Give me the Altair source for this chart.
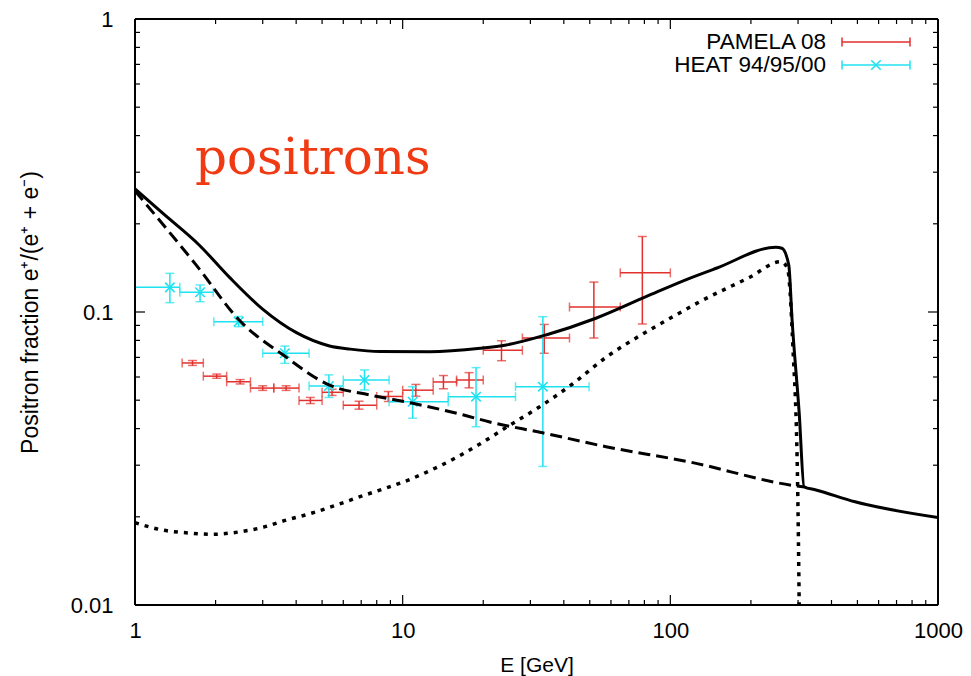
import altair as alt
import pandas as pd

# ---------------- data ----------------
# PAMELA 08 positron fraction
pam_E   = [1.64, 2.02, 2.47, 3.00, 3.67, 4.52, 5.45, 6.87, 8.84, 11.2, 14.2, 17.7, 23.4, 33.8, 51.8, 78.6]
pam_Elo = [1.5, 1.8, 2.2, 2.7, 3.3, 4.1, 5.0, 6.0, 8.0, 10.0, 13.0, 15.9, 20.0, 28.0, 42.0, 65.0]
pam_Ehi = [1.8, 2.2, 2.7, 3.3, 4.1, 5.0, 6.0, 8.0, 10.0, 13.0, 15.9, 20.0, 28.0, 42.0, 65.0, 100.0]
pam_f   = [0.0670, 0.0604, 0.0578, 0.0550, 0.0550, 0.0499, 0.0532, 0.0481, 0.0515, 0.0541, 0.0577, 0.0586, 0.0740, 0.0815, 0.1040, 0.1360]
pam_err = [0.0013, 0.0010, 0.0010, 0.0010, 0.0010, 0.0012, 0.0013, 0.0015, 0.0020, 0.0025, 0.0030, 0.0035, 0.0058, 0.0092, 0.0225, 0.0450]

# HEAT 94/95/00
heat_E   = [1.35, 1.75, 2.44, 3.63, 5.3, 7.2, 10.9, 18.8, 33.4]
heat_Elo = [1.0, 1.47, 1.97, 3.0, 4.47, 6.0, 8.9, 14.8, 26.4]
heat_Ehi = [1.47, 1.96, 3.0, 4.47, 6.0, 8.9, 14.8, 26.4, 49.7]
heat_f   = [0.1214, 0.1168, 0.0927, 0.0723, 0.0559, 0.0586, 0.0494, 0.0514, 0.0556]
heat_flo = [0.1076, 0.1084, 0.0891, 0.0668, 0.0511, 0.0542, 0.0434, 0.0406, 0.0297]
heat_fhi = [0.1355, 0.1237, 0.0965, 0.0765, 0.0610, 0.0634, 0.0556, 0.0646, 0.0964]

# model curves
total_E = [1.0, 1.275, 1.74, 2.26, 2.99, 4.01, 5.33, 6.37, 8.22, 12.6, 19.5, 24.4, 34.3, 52.7, 81.1,
           117.9, 148.5, 248.0, 261.0, 277.0, 285.0, 303.0, 316.0, 350.0, 490.0, 1000.0]
total_f = [0.263, 0.2165, 0.1690, 0.1310, 0.1025, 0.0850, 0.0766, 0.0747, 0.0733, 0.0732, 0.0752, 0.0772,
           0.0835, 0.0952, 0.1128, 0.1303, 0.1410, 0.1663, 0.1650, 0.1447, 0.0939, 0.0452, 0.0253,
           0.0247, 0.0225, 0.0199]

secondary_E = [1.0, 1.275, 1.70, 2.46, 3.58, 5.33, 7.53, 10.9, 16.9, 21.0, 33.3, 57.5, 117.5, 295.0, 316.0]
secondary_f = [0.2590, 0.1985, 0.1440, 0.0935, 0.0713, 0.0563, 0.0521, 0.0488, 0.0445, 0.0422, 0.0387,
               0.0347, 0.0308, 0.0255, 0.0253]

primary_E = [1.0, 1.275, 1.604, 1.93, 2.43, 3.01, 3.68, 4.56, 5.65, 6.93, 8.6, 10.5, 12.8, 15.7, 19.2,
             24.5, 32.4, 43.1, 57.7, 76.6, 101.7, 128.3, 197.1, 259.0, 274.0, 287.0, 299.0, 303.0]
primary_f = [0.0191, 0.0180, 0.0176, 0.01743, 0.01774, 0.01842, 0.0195, 0.02056, 0.02194, 0.02342,
             0.02502, 0.0267, 0.0289, 0.0317, 0.0352, 0.0405, 0.0474, 0.0568, 0.0702, 0.0828, 0.0961,
             0.1082, 0.1311, 0.1485, 0.1410, 0.0761, 0.0253, 0.0100]

x_major = [1, 10, 100, 1000]
x_minor = [2, 3, 4, 5, 6, 7, 8, 9, 20, 30, 40, 50, 60, 70, 80, 90, 200, 300, 400, 500, 600, 700, 800, 900]
y_major = [0.01, 0.1, 1]
y_minor = [0.02, 0.03, 0.04, 0.05, 0.06, 0.07, 0.08, 0.09, 0.2, 0.3, 0.4, 0.5, 0.6, 0.7, 0.8, 0.9]

legend_labels = ["PAMELA 08", "HEAT 94/95/00"]
annotation = "positrons"

# ---------------- styling ----------------
W, H = 803, 586
RED = "#e2302c"
CYAN = "#1fe2f0"
FONT = "Liberation Sans"

xs = alt.Scale(type="log", domain=[1, 1000], nice=False)
ys = alt.Scale(type="log", domain=[0.01, 1], nice=False)

x_axis = alt.Axis(values=x_major, format="d", ticks=False, domain=False, grid=False, labelFlush=False,
                  labelPadding=15, labelFontSize=22, labelFont=FONT, labelColor="black",
                  title="E [GeV]", titleFontSize=21, titleFont=FONT, titleFontWeight="normal",
                  titleColor="black", titleX=W / 2, titleY=60, titleBaseline="middle")
y_axis = alt.Axis(values=y_major, format="~g", ticks=False, domain=False, grid=False, labelFlush=False,
                  labelPadding=22, labelFontSize=22, labelFont=FONT, labelColor="black",
                  title="Positron fraction e\u207a/(e\u207a + e\u207b)", titleFontSize=23, titleFont=FONT,
                  titleFontWeight="normal", titleColor="black", titleX=-105, titleY=H / 2,
                  titleAngle=270, titleAlign="center", titleBaseline="middle")


def X(field):
    return alt.X(field, type="quantitative", scale=xs, axis=x_axis)


def Y(field):
    return alt.Y(field, type="quantitative", scale=ys, axis=y_axis)


pam = pd.DataFrame({"E": pam_E, "Elo": pam_Elo, "Ehi": pam_Ehi, "f": pam_f,
                    "flo": [a - b for a, b in zip(pam_f, pam_err)],
                    "fhi": [a + b for a, b in zip(pam_f, pam_err)]})
heat = pd.DataFrame({"E": heat_E, "Elo": heat_Elo, "Ehi": heat_Ehi, "f": heat_f,
                     "flo": heat_flo, "fhi": heat_fhi})


def errbars(df, color):
    base = alt.Chart(df)
    hbar = base.mark_rule(color=color, strokeWidth=1.5, clip=True).encode(x=X("Elo"), x2="Ehi", y=Y("f"))
    vbar = base.mark_rule(color=color, strokeWidth=1.5, clip=True).encode(x=X("E"), y=Y("flo"), y2="fhi")
    c1 = base.mark_tick(color=color, orient="vertical", size=9, thickness=1.5, clip=True).encode(x=X("Elo"), y=Y("f"))
    c2 = base.mark_tick(color=color, orient="vertical", size=9, thickness=1.5, clip=True).encode(x=X("Ehi"), y=Y("f"))
    c3 = base.mark_tick(color=color, orient="horizontal", size=9, thickness=1.5, clip=True).encode(x=X("E"), y=Y("flo"))
    c4 = base.mark_tick(color=color, orient="horizontal", size=9, thickness=1.5, clip=True).encode(x=X("E"), y=Y("fhi"))
    return [hbar, vbar, c1, c2, c3, c4]


XMARK = "M-1,-1L1,1M-1,1L1,-1"
heat_pts = alt.Chart(heat).mark_point(shape=XMARK, size=90, filled=False, color=CYAN,
                                      strokeWidth=1.6, opacity=1).encode(x=X("E"), y=Y("f"))

tot = alt.Chart(pd.DataFrame({"E": total_E, "f": total_f, "o": range(len(total_E))})).mark_line(
    color="black", strokeWidth=3, clip=True, interpolate="monotone").encode(x=X("E"), y=Y("f"), order="o:Q")
sec = alt.Chart(pd.DataFrame({"E": secondary_E, "f": secondary_f, "o": range(len(secondary_E))})).mark_line(
    color="black", strokeWidth=3, strokeDash=[12, 6], clip=True, interpolate="monotone").encode(
    x=X("E"), y=Y("f"), order="o:Q")
pri = alt.Chart(pd.DataFrame({"E": primary_E, "f": primary_f, "o": range(len(primary_E))})).mark_line(
    color="black", strokeWidth=3.5, strokeDash=[4, 6], clip=True, interpolate="monotone").encode(
    x=X("E"), y=Y("f"), order="o:Q")


# inward ticks on all four sides
def xticks(vals, length):
    d = alt.Chart(pd.DataFrame({"v": vals}))
    b = d.mark_rule(color="black", strokeWidth=1.2).encode(x=X("v"), y=alt.value(H), y2=alt.value(H - length))
    t = d.mark_rule(color="black", strokeWidth=1.2).encode(x=X("v"), y=alt.value(0), y2=alt.value(length))
    return [b, t]


def yticks(vals, length):
    d = alt.Chart(pd.DataFrame({"v": vals}))
    l = d.mark_rule(color="black", strokeWidth=1.2).encode(y=Y("v"), x=alt.value(0), x2=alt.value(length))
    r = d.mark_rule(color="black", strokeWidth=1.2).encode(y=Y("v"), x=alt.value(W), x2=alt.value(W - length))
    return [l, r]


ticks = xticks(x_major, 10) + xticks(x_minor, 5) + yticks(y_major, 10) + yticks(y_minor, 5)

# plot frame
fr = alt.Chart(pd.DataFrame({"k": [0]}))
frame = [
    fr.mark_rule(color="black", strokeWidth=2).encode(x=alt.value(0), x2=alt.value(W), y=alt.value(0)),
    fr.mark_rule(color="black", strokeWidth=2).encode(x=alt.value(0), x2=alt.value(W), y=alt.value(H)),
    fr.mark_rule(color="black", strokeWidth=2).encode(x=alt.value(0), y=alt.value(0), y2=alt.value(H)),
    fr.mark_rule(color="black", strokeWidth=2).encode(x=alt.value(W), y=alt.value(0), y2=alt.value(H)),
]

# legend (drawn manually, gnuplot style)
leg_colors = [RED, CYAN]
legend_layers = []
for row, (lab, col) in enumerate(zip(legend_labels, leg_colors)):
    yy = 23 + 23 * row
    one = alt.Chart(pd.DataFrame({"label": [lab]}))
    legend_layers.append(one.mark_text(align="right", baseline="middle", font=FONT, fontSize=22.5,
                                       color="black").encode(text="label:N", x=alt.value(691), y=alt.value(yy)))
    legend_layers.append(one.mark_rule(color=col, strokeWidth=1.5).encode(
        x=alt.value(707), x2=alt.value(775), y=alt.value(yy)))
    legend_layers.append(one.mark_rule(color=col, strokeWidth=1.5).encode(
        x=alt.value(707), y=alt.value(yy - 4.5), y2=alt.value(yy + 4.5)))
    legend_layers.append(one.mark_rule(color=col, strokeWidth=1.5).encode(
        x=alt.value(775), y=alt.value(yy - 4.5), y2=alt.value(yy + 4.5)))
    if row == 1:
        legend_layers.append(one.mark_point(shape=XMARK, size=90, filled=False, color=col,
                                            strokeWidth=1.6, opacity=1).encode(
            x=alt.value(741), y=alt.value(yy)))

note = alt.Chart(pd.DataFrame({"t": [annotation]})).mark_text(
    align="left", baseline="alphabetic", font="DejaVu Serif", fontSize=50, color="#f03a14").encode(
    text="t:N", x=alt.value(60), y=alt.value(155))

layers = (errbars(pam, RED) + errbars(heat, CYAN) + [heat_pts, sec, pri, tot] + ticks + frame
          + legend_layers + [note])

chart = alt.layer(*layers).properties(
    width=W, height=H,
    autosize=alt.AutoSizeParams(type="none"),
    padding={"left": 135, "top": 19, "right": 33, "bottom": 71},
).configure_view(stroke=None).configure(background="white")

chart.save("out.html", embed_options={"renderer": "svg", "actions": False})
